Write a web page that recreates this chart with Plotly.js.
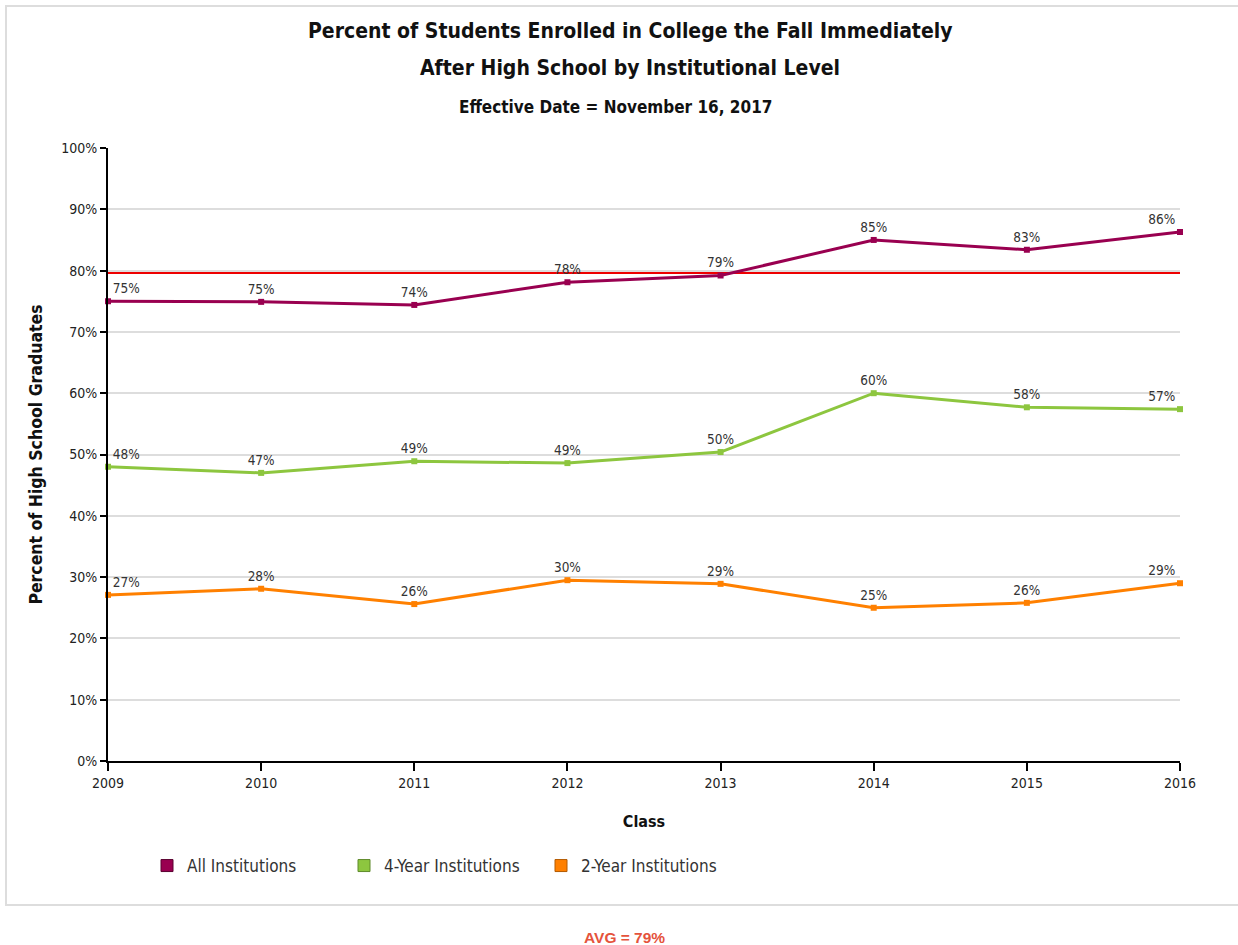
<!DOCTYPE html>
<html>
<head>
<meta charset="utf-8">
<script src="https://cdn.plot.ly/plotly-3.0.1.min.js"></script>
<style>
  html, body { margin: 0; padding: 0; background: #fff; }
  #chart { width: 1238px; height: 945px; }
</style>
</head>
<body>
<div id="chart"></div>
<script>
// ---- Data ----
const years = [2009, 2010, 2011, 2012, 2013, 2014, 2015, 2016];
const allInstitutions = [75.0, 74.9, 74.4, 78.1, 79.2, 85.0, 83.4, 86.3];
const fourYear = [48.0, 47.0, 48.9, 48.6, 50.4, 60.0, 57.7, 57.4];
const twoYear = [27.1, 28.1, 25.6, 29.5, 28.9, 25.0, 25.8, 29.0];
const seriesNames = ["All Institutions", "4-Year Institutions", "2-Year Institutions"];
const avgValue = 79.6;
const avgLabel = "AVG = 79%";
const yTickValues = [0, 10, 20, 30, 40, 50, 60, 70, 80, 90, 100];
const yTickLabels = ["0%", "10%", "20%", "30%", "40%", "50%", "60%", "70%", "80%", "90%", "100%"];

const colors = ["#990050", "#8dc63f", "#ff8000"];
const borderColors = ["#5a0030", "#5f8a2a", "#b35a00"];
const FONT = "DejaVu Sans Condensed, DejaVu Sans, sans-serif";

function labelPositions(n) {
  return years.map((_, i) => i === 0 ? "top right" : (i === n - 1 ? "top left" : "top center"));
}

const seriesValues = [allInstitutions, fourYear, twoYear];
const traces = [];
seriesValues.forEach((vals, k) => {
  traces.push({
    x: years, y: vals, type: "scatter", mode: "lines+markers+text",
    name: seriesNames[k], showlegend: false,
    line: { color: colors[k], width: 3 },
    marker: { color: colors[k], symbol: "square", size: 6 },
    text: vals.map(v => Math.round(v) + "%"),
    textposition: labelPositions(vals.length),
    textfont: { family: FONT, size: 13.5, color: "#333" },
    cliponaxis: false, hoverinfo: "x+y"
  });
});
// legend proxies (square swatches)
seriesNames.forEach((nm, k) => {
  traces.push({
    x: [null], y: [null], type: "scatter", mode: "markers", name: nm,
    marker: { color: colors[k], symbol: "square", size: 12, line: { color: borderColors[k], width: 1 } },
    showlegend: true
  });
});

// pixel helpers for paper coords (plot area: x 108..1180, y 148..761)
const L = 108, R = 1180, T = 148, B = 761;
const px = x => (x - L) / (R - L);
const py = y => (B - y) / (B - T);

const layout = {
  width: 1238, height: 945,
  margin: { l: L, r: 1238 - R, t: T, b: 945 - B, pad: 0 },
  paper_bgcolor: "#fff", plot_bgcolor: "#fff",
  font: { family: FONT, color: "#222" },
  showlegend: true,
  legend: {
    orientation: "h", x: px(147), y: py(866), xanchor: "left", yanchor: "middle",
    font: { family: FONT, size: 17, color: "#333" },
    entrywidth: 152, entrywidthmode: "pixels", bgcolor: "rgba(0,0,0,0)"
  },
  xaxis: {
    range: [2009, 2016], tickmode: "array", tickvals: years, ticktext: years.map(String),
    showgrid: false, zeroline: false, showline: true, linecolor: "#000", linewidth: 2,
    ticks: "outside", ticklen: 8, tickwidth: 2, tickcolor: "#000",
    tickfont: { family: FONT, size: 14, color: "#222" },
    title: { text: "Class", standoff: 26, font: { family: FONT, size: 16, color: "#111", weight: "bold" } },
    fixedrange: true
  },
  yaxis: {
    range: [0, 100], tickmode: "array", tickvals: yTickValues, ticktext: yTickLabels,
    showgrid: true, gridcolor: "#dddddd", gridwidth: 2, zeroline: false,
    showline: true, linecolor: "#000", linewidth: 2,
    ticks: "outside", ticklen: 6, tickwidth: 2, tickcolor: "#000",
    tickfont: { family: FONT, size: 14, color: "#222" },
    title: { text: "Percent of High School Graduates", standoff: 14, font: { family: FONT, size: 17.5, color: "#111", weight: "bold" } },
    fixedrange: true
  },
  shapes: [
    { type: "rect", xref: "paper", yref: "paper", x0: px(6), x1: px(1242), y0: py(905), y1: py(6),
      line: { color: "#dddddd", width: 2 }, fillcolor: "rgba(0,0,0,0)", layer: "below" },
    { type: "line", xref: "paper", yref: "y", x0: 0, x1: 1, y0: avgValue, y1: avgValue,
      line: { color: "#ee0000", width: 2 }, layer: "between" }
  ],
  annotations: [
    { text: "Percent of Students Enrolled in College the Fall Immediately", xref: "paper", yref: "paper",
      x: px(630), y: py(31), xanchor: "center", yanchor: "middle", showarrow: false,
      font: { family: FONT, size: 21, color: "#111", weight: "bold" } },
    { text: "After High School by Institutional Level", xref: "paper", yref: "paper",
      x: px(630), y: py(68), xanchor: "center", yanchor: "middle", showarrow: false,
      font: { family: FONT, size: 21, color: "#111", weight: "bold" } },
    { text: "Effective Date = November 16, 2017", xref: "paper", yref: "paper",
      x: px(615), y: py(107), xanchor: "center", yanchor: "middle", showarrow: false,
      font: { family: FONT, size: 17, color: "#111", weight: "bold" } },
    { text: avgLabel, xref: "paper", yref: "paper",
      x: px(624), y: py(937), xanchor: "center", yanchor: "middle", showarrow: false,
      font: { family: "Liberation Sans, Arial, sans-serif", size: 15.5, color: "#e5533c", weight: "bold" } }
  ]
};

Plotly.newPlot("chart", traces, layout, { displayModeBar: false, staticPlot: true });
</script>
</body>
</html>
